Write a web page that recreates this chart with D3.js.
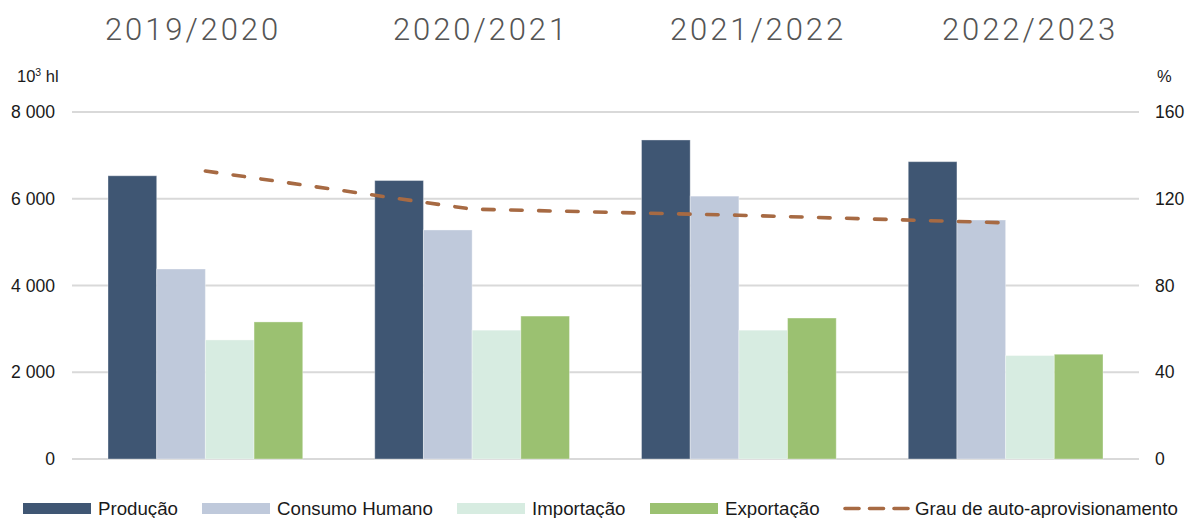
<!DOCTYPE html>
<html><head><meta charset="utf-8">
<script src="https://cdn.jsdelivr.net/npm/d3@7/dist/d3.min.js"></script>
<style>
body{margin:0;background:#fff;}
svg{display:block;font-family:"Liberation Sans",Arial,sans-serif;}
</style></head>
<body><svg id="c" width="1187" height="518"></svg>
<script>
const categories = ["2019/2020","2020/2021","2021/2022","2022/2023"];
const seriesNames = ["Produção","Consumo Humano","Importação","Exportação"];
const producao = [6530, 6420, 7355, 6855];
const consumo = [4380, 5280, 6060, 5510];
const importacao = [2745, 2970, 2970, 2385];
const exportacao = [3160, 3295, 3250, 2415];
const grau = [132.8, 115.2, 112.4, 108.9];
const leftTicks = [0, 2000, 4000, 6000, 8000];
const rightTicks = [0, 40, 80, 120, 160];
const lineName = "Grau de auto-aprovisionamento";

const colors = ["#3f5673","#bfc9db","#d7ece1","#9bc171"];
const lineColor = "#a76a43";
const seriesValues = [producao, consumo, importacao, exportacao];

const svg = d3.select("#c");
const L = 72, R = 1139, T = 112, B = 459;

const x0 = d3.scaleBand().domain(categories).range([L, R]).paddingInner(0.27).paddingOuter(0.135);
const x1 = d3.scaleBand().domain(seriesNames).range([0, x0.bandwidth()]);
const yL = d3.scaleLinear().domain([0, 8000]).range([B, T]);
const yR = d3.scaleLinear().domain([0, 160]).range([B, T]);

const fmt = v => d3.format(",")(v).replace(/,/g, " ");

// gridlines
svg.append("g").selectAll("line").data(leftTicks).join("line")
  .attr("x1", L).attr("x2", R)
  .attr("y1", d => yL(d)).attr("y2", d => yL(d))
  .attr("stroke", "#d9d9d9").attr("stroke-width", 2);

// left axis
const gl = svg.append("g").attr("transform", `translate(${L},0)`)
  .call(d3.axisLeft(yL).tickValues(leftTicks).tickFormat(fmt).tickSize(0).tickPadding(17));
gl.select(".domain").remove();
gl.selectAll("text").attr("font-size", 17.6).attr("fill", "#1a1a1a").attr("font-family", "Liberation Sans, Arial, sans-serif");

// right axis
const gr = svg.append("g").attr("transform", `translate(${R},0)`)
  .call(d3.axisRight(yR).tickValues(rightTicks).tickSize(0).tickPadding(16));
gr.select(".domain").remove();
gr.selectAll("text").attr("font-size", 17.6).attr("fill", "#1a1a1a").attr("font-family", "Liberation Sans, Arial, sans-serif");

// unit labels
const u = svg.append("text").attr("x", 17).attr("y", 82).attr("font-size", 16.5).attr("fill", "#1a1a1a");
u.append("tspan").text("10");
u.append("tspan").text("3").attr("font-size", 10.5).attr("dy", -6);
u.append("tspan").text(" hl").attr("dy", 6);
svg.append("text").attr("x", 1157).attr("y", 82).attr("font-size", 16.5).attr("fill", "#1a1a1a").text("%");

// bars
const groups = svg.append("g").selectAll("g").data(categories).join("g")
  .attr("transform", d => `translate(${x0(d)},0)`);
groups.selectAll("rect").data((c, i) => seriesNames.map((s, j) => ({s, j, v: seriesValues[j][i]})))
  .join("rect")
  .attr("x", d => x1(d.s)).attr("width", x1.bandwidth())
  .attr("y", d => yL(d.v)).attr("height", d => B - yL(d.v))
  .attr("fill", d => colors[d.j])
  .attr("stroke", "rgba(255,255,255,0.35)").attr("stroke-width", 1);

// line
const line = d3.line().x((d, i) => x0(categories[i]) + x0.bandwidth() / 2).y(d => yR(d));
svg.append("path").datum(grau).attr("d", line)
  .attr("fill", "none").attr("stroke", lineColor).attr("stroke-width", 3.6)
  .attr("stroke-dasharray", "11.5,16.5").attr("stroke-linecap", "round");

// top category titles
const titleX = [193, 481, 758, 1030];
svg.append("g").selectAll("text").data(categories).join("text")
  .attr("x", (d, i) => titleX[i]).attr("y", 40)
  .attr("text-anchor", "middle")
  .attr("font-family", "Roboto, sans-serif").attr("font-weight", 300)
  .attr("font-size", 31).attr("letter-spacing", 2.9).attr("fill", "#555")
  .text(d => d);

// legend
const leg = svg.append("g").attr("font-size", 18.7).attr("fill", "#1a1a1a");
const legX = [23, 202, 457, 650];
seriesNames.forEach((s, i) => {
  leg.append("rect").attr("x", legX[i]).attr("y", 503).attr("width", 68).attr("height", 11).attr("fill", colors[i]);
  leg.append("text").attr("x", legX[i] + 75).attr("y", 515).text(s);
});
leg.append("line").attr("x1", 845).attr("x2", 910).attr("y1", 508.5).attr("y2", 508.5)
  .attr("stroke", lineColor).attr("stroke-width", 3.6)
  .attr("stroke-dasharray", "14,10.5").attr("stroke-linecap", "round");
leg.append("text").attr("x", 915).attr("y", 515).text(lineName);
</script></body></html>
